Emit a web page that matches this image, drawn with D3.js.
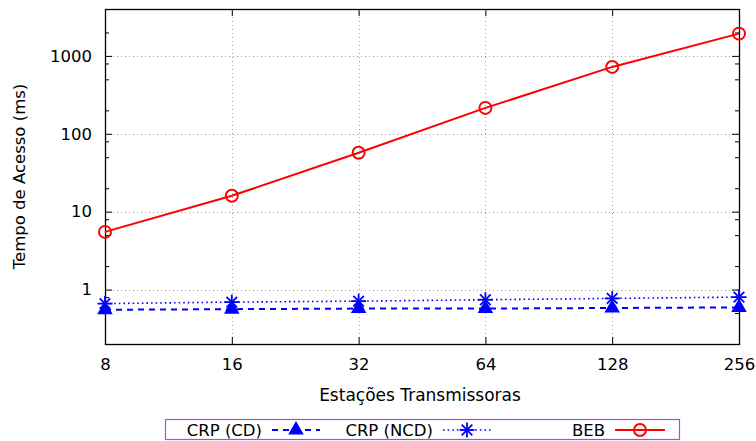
<!DOCTYPE html>
<html>
<head>
<meta charset="utf-8">
<script src="https://cdn.jsdelivr.net/npm/d3@7/dist/d3.min.js"></script>
<style>
  html, body { margin: 0; padding: 0; background: #fff; }
  svg { display: block; font-family: "DejaVu Sans", sans-serif; }
</style>
</head>
<body>
<svg id="chart" width="756" height="441"></svg>
<script>
// Number of transmitting stations (x axis, log base 2)
const stations = [8, 16, 32, 64, 128, 256];
// Access time in ms for each protocol
const crpCD  = [0.55, 0.56, 0.57, 0.57, 0.58, 0.59];
const crpNCD = [0.66, 0.69, 0.71, 0.74, 0.77, 0.80];
const beb    = [5.5, 16, 57, 215, 722, 1930];
// Axis ticks
const yMajorTicks = [1, 10, 100, 1000];
const yMinorTicks = [0.2, 0.5, 0.8, 2, 5, 8, 20, 50, 80, 200, 500, 800, 2000];
const xTicks = [8, 16, 32, 64, 128, 256];
const seriesNames = ["CRP (CD)", "CRP (NCD)", "BEB"];

const svg = d3.select("#chart");
const L = 105, R = 739, T = 9, B = 344;

const x = d3.scaleLog().base(2).domain([8, 256]).range([L, R]);
const y = d3.scaleLog().domain([0.2, 4000]).range([B, T]);

const BLUE = "#0000ff", RED = "#ff0000";

// grid
const grid = svg.append("g").attr("stroke", "#a0a0a0").attr("stroke-width", 1)
  .attr("stroke-dasharray", "1,3");
grid.selectAll("line.h").data(yMajorTicks).join("line")
  .attr("x1", L).attr("x2", R)
  .attr("y1", d => Math.round(y(d)) + 0.5).attr("y2", d => Math.round(y(d)) + 0.5);
grid.selectAll("line.v").data(xTicks.slice(1, -1)).join("line")
  .attr("y1", T).attr("y2", B)
  .attr("x1", d => Math.round(x(d)) + 0.5).attr("x2", d => Math.round(x(d)) + 0.5);

// axes (left/bottom with labels, right/top mirrored, ticks inward)
const fontSize = 16.5;
const yLeft = svg.append("g").attr("transform", `translate(${L},0)`)
  .call(d3.axisLeft(y).tickValues(yMajorTicks).tickFormat(d3.format("d")).tickSizeInner(-7).tickSizeOuter(0).tickPadding(13));
const yLeftMinor = svg.append("g").attr("transform", `translate(${L},0)`)
  .call(d3.axisLeft(y).tickValues(yMinorTicks).tickFormat("").tickSizeInner(-4).tickSizeOuter(0));
const yRight = svg.append("g").attr("transform", `translate(${R},0)`)
  .call(d3.axisRight(y).tickValues(yMajorTicks).tickFormat("").tickSizeInner(-7).tickSizeOuter(0));
const yRightMinor = svg.append("g").attr("transform", `translate(${R},0)`)
  .call(d3.axisRight(y).tickValues(yMinorTicks).tickFormat("").tickSizeInner(-4).tickSizeOuter(0));
const xBottom = svg.append("g").attr("transform", `translate(0,${B})`)
  .call(d3.axisBottom(x).tickValues(xTicks).tickFormat(d3.format("d")).tickSizeInner(-7).tickSizeOuter(0).tickPadding(14));
const xTop = svg.append("g").attr("transform", `translate(0,${T})`)
  .call(d3.axisTop(x).tickValues(xTicks).tickFormat("").tickSizeInner(-7).tickSizeOuter(0));

[yLeft, yLeftMinor, yRight, yRightMinor, xBottom, xTop].forEach(g => {
  g.select(".domain").remove();
  g.selectAll("line").attr("stroke", "#000");
  g.selectAll("text").attr("font-size", fontSize).attr("font-family", "DejaVu Sans").attr("fill", "#000");
});

// frame
svg.append("rect").attr("x", L + 0.5).attr("y", T + 0.5)
  .attr("width", R - L).attr("height", B - T)
  .attr("fill", "none").attr("stroke", "#000").attr("stroke-width", 1.3);

// axis titles
svg.append("text").attr("x", 420).attr("y", 401).attr("text-anchor", "middle")
  .attr("font-size", 17).text("Estações Transmissoras");
svg.append("text").attr("transform", `translate(25,${(T + B) / 2}) rotate(-90)`)
  .attr("text-anchor", "middle").attr("font-size", fontSize).text("Tempo de Acesso (ms)");

// marker shapes
const tri = d3.symbol().type(d3.symbolTriangle).size(105);
function star(g, cx, cy, r) {
  const s = g.append("g").attr("stroke", BLUE).attr("stroke-width", 1.8);
  for (let k = 0; k < 4; k++) {
    const a = k * Math.PI / 4;
    s.append("line")
      .attr("x1", cx - r * Math.cos(a)).attr("y1", cy - r * Math.sin(a))
      .attr("x2", cx + r * Math.cos(a)).attr("y2", cy + r * Math.sin(a));
  }
}

const line = d3.line().x(d => x(d[0])).y(d => y(d[1]));
const plot = svg.append("g");

// CRP (NCD): dotted blue with asterisks
plot.append("path").datum(stations.map((s, i) => [s, crpNCD[i]]))
  .attr("d", line).attr("fill", "none").attr("stroke", BLUE)
  .attr("stroke-width", 1.6).attr("stroke-dasharray", "1.6,3");
// CRP (CD): dashed blue with filled triangles
plot.append("path").datum(stations.map((s, i) => [s, crpCD[i]]))
  .attr("d", line).attr("fill", "none").attr("stroke", BLUE)
  .attr("stroke-width", 2).attr("stroke-dasharray", "6,5");
stations.forEach((s, i) => star(plot, x(s), y(crpNCD[i]), 7.5));
plot.selectAll("path.tri").data(stations).join("path")
  .attr("transform", (s, i) => `translate(${x(s)},${y(crpCD[i])})`)
  .attr("d", tri).attr("fill", BLUE);

// BEB: solid red with open circles
plot.append("path").datum(stations.map((s, i) => [s, beb[i]]))
  .attr("d", line).attr("fill", "none").attr("stroke", RED).attr("stroke-width", 2);
plot.selectAll("circle.beb").data(stations).join("circle")
  .attr("cx", s => x(s)).attr("cy", (s, i) => y(beb[i])).attr("r", 6)
  .attr("fill", "none").attr("stroke", RED).attr("stroke-width", 2);

// legend
const lg = svg.append("g");
lg.append("rect").attr("x", 165.5).attr("y", 419.5).attr("width", 514).attr("height", 20)
  .attr("fill", "none").attr("stroke", "#a54ee8").attr("stroke-width", 1.2);
const ly = 430;
lg.append("text").attr("x", 262).attr("y", ly + 6).attr("text-anchor", "end").attr("font-size", fontSize).text(seriesNames[0]);
lg.append("line").attr("x1", 272).attr("x2", 320).attr("y1", ly).attr("y2", ly)
  .attr("stroke", BLUE).attr("stroke-width", 2).attr("stroke-dasharray", "6,5");
lg.append("path").attr("transform", `translate(296,${ly})`).attr("d", tri).attr("fill", BLUE);

lg.append("text").attr("x", 433).attr("y", ly + 6).attr("text-anchor", "end").attr("font-size", fontSize).text(seriesNames[1]);
lg.append("line").attr("x1", 443).attr("x2", 491).attr("y1", ly).attr("y2", ly)
  .attr("stroke", BLUE).attr("stroke-width", 1.6).attr("stroke-dasharray", "1.6,3");
star(lg, 467, ly, 7.5);

lg.append("text").attr("x", 605).attr("y", ly + 6).attr("text-anchor", "end").attr("font-size", fontSize).text(seriesNames[2]);
lg.append("line").attr("x1", 615).attr("x2", 665).attr("y1", ly).attr("y2", ly)
  .attr("stroke", RED).attr("stroke-width", 2);
lg.append("circle").attr("cx", 640).attr("cy", ly).attr("r", 6)
  .attr("fill", "none").attr("stroke", RED).attr("stroke-width", 2);
</script>
</body>
</html>
